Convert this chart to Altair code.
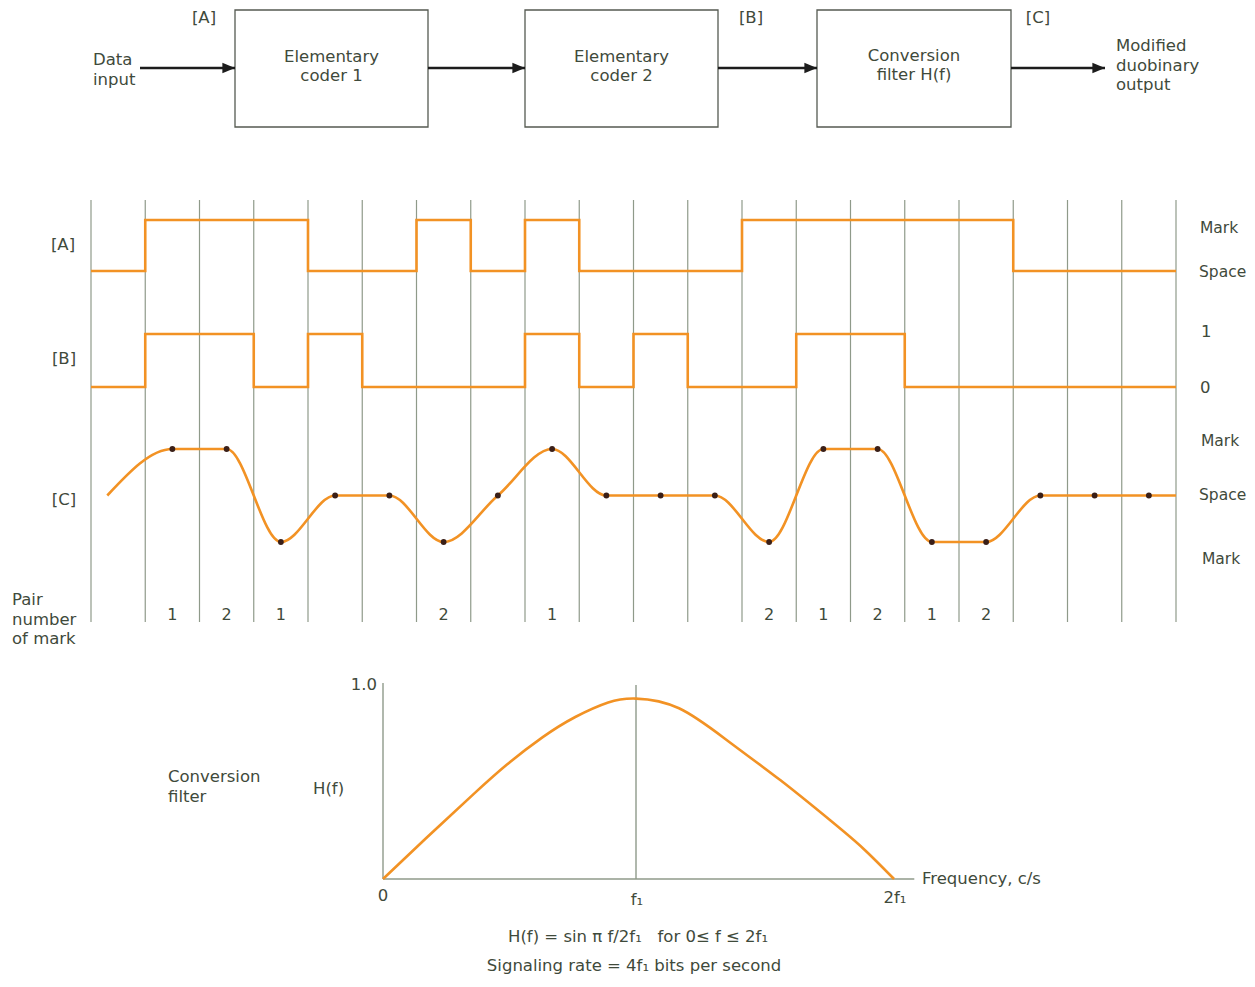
import altair as alt
import pandas as pd

# ------------------------------------------------------------------ data
# bit-interval index (20 signalling intervals)
bit_index = list(range(20))
# [A] data input: 1 = Mark, 0 = Space
signal_A = [0, 1, 1, 1, 0, 0, 1, 0, 1, 0, 0, 0, 1, 1, 1, 1, 1, 0, 0, 0]
# [B] output of elementary coder 2: 1 / 0
signal_B = [0, 1, 1, 0, 1, 0, 0, 0, 1, 0, 1, 0, 0, 1, 1, 0, 0, 0, 0, 0]
# [C] modified duobinary samples at bit centres (+1 Mark, 0 Space, -1 Mark)
sample_C = [None, 1, 1, -1, 0, 0, -1, 0, 1, 0, 0, 0, -1, 1, 1, -1, -1, 0, 0, 0]
curve_C_start_t = 0.3
curve_C_start_v = 0.0
curve_C_end_t = 20.0
curve_C_end_v = 0.0
# pair number of mark, per interval
pair_number = ["", "1", "2", "1", "", "", "2", "", "1", "", "", "", "2", "1", "2", "1", "2", "", "", ""]

# conversion filter response (f in units of f1)
filter_f = [0, 0.17, 0.36, 0.49, 0.63, 0.76, 0.89, 1.0, 1.17, 1.37, 1.57, 1.77, 1.9, 2.02]
filter_H = [0, 0.21, 0.44, 0.59, 0.73, 0.835, 0.91, 0.93, 0.88, 0.705, 0.51, 0.30, 0.155, 0.0]

# block diagram labels
block_labels = ["Elementary\ncoder 1", "Elementary\ncoder 2", "Conversion\nfilter H(f)"]
point_labels = ["[A]", "[B]", "[C]"]

# ------------------------------------------------------------------ layout
W, H = 1239, 971
SX0, SX1, SY0, SY1 = 8, 8 + W, 8, 8 + H
FONT = "DejaVu Sans"
TXT = "#3f4a3b"
ORANGE = "#f29224"
GRID = "#8f9a8a"
DOT = "#3a1f18"
NB = "\u00a0"


def xscale(d0, p0, d1, p1):
    k = (d1 - d0) / (p1 - p0)
    return alt.Scale(domain=[d0 + (SX0 - p0) * k, d0 + (SX1 - p0) * k], nice=False, zero=False)


def yscale(d0, p0, d1, p1):
    k = (d1 - d0) / (p1 - p0)
    return alt.Scale(domain=[d0 + (SY1 - p0) * k, d0 + (SY0 - p0) * k], nice=False, zero=False)


XC = alt.Scale(domain=[SX0, SX1], nice=False, zero=False)   # canvas (annotation) scale
YC = alt.Scale(domain=[SY1, SY0], nice=False, zero=False)

XW = xscale(0, 91, 20, 1176)          # bit time
YA = yscale(0, 271, 1, 220)
YB = yscale(0, 387, 1, 334)
YCC = yscale(-1, 542, 1, 449)
XF = xscale(0, 383, 1, 636)           # filter frequency
YF = yscale(0, 879, 1, 685)

layers = []

# ---------------------------------------------------------- block diagram
box_left = [235, 525, 817]
box_right = [428, 718, 1011]
box_top, box_bottom = 10, 127
boxes = pd.DataFrame({"x": box_left, "x2": box_right, "y": [box_top] * 3, "y2": [box_bottom] * 3,
                      "label": block_labels,
                      "cx": [(a + b) / 2 for a, b in zip(box_left, box_right)],
                      "cy": [57, 57, 56]})
layers.append(alt.Chart(boxes).mark_rect(fill=None, stroke="#555a52", strokeWidth=1.3).encode(
    x=alt.X("x:Q", scale=XC, axis=None), x2="x2:Q",
    y=alt.Y("y:Q", scale=YC, axis=None), y2="y2:Q"))
layers.append(alt.Chart(boxes).mark_text(font=FONT, fontSize=16.5, color=TXT, lineBreak="\n",
                                         lineHeight=19, baseline="middle", align="center").encode(
    x=alt.X("cx:Q", scale=XC, axis=None), y=alt.Y("cy:Q", scale=YC, axis=None), text="label:N"))

arrow_y = 68
arrows = pd.DataFrame({"x": [140, 428, 718, 1011], "x2": [235, 525, 817, 1105], "y": [arrow_y] * 4})
layers.append(alt.Chart(arrows).mark_rule(color="#1c1c1c", strokeWidth=2.6).encode(
    x=alt.X("x:Q", scale=XC, axis=None), x2="x2:Q", y=alt.Y("y:Q", scale=YC, axis=None)))
layers.append(alt.Chart(arrows).mark_point(shape="M-1,-0.42L0,0L-1,0.42Z", filled=True, size=640,
                                           color="#1c1c1c", opacity=1).encode(
    x=alt.X("x2:Q", scale=XC, axis=None), y=alt.Y("y:Q", scale=YC, axis=None)))

# ---------------------------------------------------------- annotations (canvas px)
ann_center = pd.DataFrame([
    {"t": point_labels[0], "x": 204, "y": 18},
    {"t": point_labels[1], "x": 751, "y": 18},
    {"t": point_labels[2], "x": 1038, "y": 18},
    {"t": "[A]", "x": 63, "y": 245},
    {"t": "[B]", "x": 64, "y": 359},
    {"t": "[C]", "x": 64, "y": 500},
    {"t": "0", "x": 383, "y": 896},
    {"t": "f\u2081", "x": 637, "y": 900},
    {"t": "2f\u2081", "x": 895, "y": 898},
])
ann_left = pd.DataFrame([
    {"t": "Data\ninput", "x": 93, "y": 60},
    {"t": "Modified\nduobinary\noutput", "x": 1116, "y": 46},
    {"t": "1", "x": 1201, "y": 332},
    {"t": "0", "x": 1200, "y": 388},
    {"t": "Pair\nnumber\nof mark", "x": 12, "y": 600},
    {"t": "Conversion\nfilter", "x": 168, "y": 777},
    {"t": "H(f)", "x": 313, "y": 789},
    {"t": "Frequency, c/s", "x": 922, "y": 879},
])
ann_right_side = pd.DataFrame([
    {"t": "Mark", "x": 1200, "y": 228},
    {"t": "Space", "x": 1199, "y": 272},
    {"t": "Mark", "x": 1201, "y": 441},
    {"t": "Space", "x": 1199, "y": 495},
    {"t": "Mark", "x": 1202, "y": 559},
])
ann_right = pd.DataFrame([{"t": "1.0", "x": 377, "y": 685}])
ann_formula = pd.DataFrame([
    {"t": "H(f) = sin \u03c0 f/2f\u2081" + NB * 3 + "for 0\u2264 f \u2264 2f\u2081", "x": 638, "y": 937},
    {"t": "Signaling rate = 4f\u2081 bits per second", "x": 634, "y": 966},
])
for df, al, fs in [(ann_center, "center", 16.5), (ann_left, "left", 16.5), (ann_right, "right", 16.5),
                   (ann_right_side, "left", 15.5), (ann_formula, "center", 16.5)]:
    layers.append(alt.Chart(df).mark_text(font=FONT, fontSize=fs, color=TXT, lineBreak="\n",
                                          lineHeight=19.5, baseline="middle", align=al).encode(
        x=alt.X("x:Q", scale=XC, axis=None), y=alt.Y("y:Q", scale=YC, axis=None), text="t:N"))

# ---------------------------------------------------------- waveforms
grid = pd.DataFrame({"t": list(range(21))})
layers.append(alt.Chart(grid).mark_rule(color=GRID, strokeWidth=1.2).encode(
    x=alt.X("t:Q", scale=XW, axis=None), y=alt.value(200 - SY0), y2=alt.value(622 - SY0)))

stepA = pd.DataFrame({"t": bit_index + [20], "v": signal_A + [signal_A[-1]]})
stepB = pd.DataFrame({"t": bit_index + [20], "v": signal_B + [signal_B[-1]]})
layers.append(alt.Chart(stepA).mark_line(interpolate="step-after", color=ORANGE, strokeWidth=2.6).encode(
    x=alt.X("t:Q", scale=XW, axis=None), y=alt.Y("v:Q", scale=YA, axis=None), order="t:Q"))
layers.append(alt.Chart(stepB).mark_line(interpolate="step-after", color=ORANGE, strokeWidth=2.6).encode(
    x=alt.X("t:Q", scale=XW, axis=None), y=alt.Y("v:Q", scale=YB, axis=None), order="t:Q"))

c_t = [i + 0.5 for i in bit_index if sample_C[i] is not None]
c_v = [v for v in sample_C if v is not None]
curveC = pd.DataFrame({"t": [curve_C_start_t] + c_t + [curve_C_end_t],
                       "v": [curve_C_start_v] + c_v + [curve_C_end_v]})
dotsC = pd.DataFrame({"t": c_t, "v": c_v})
layers.append(alt.Chart(curveC).mark_line(interpolate="monotone", color=ORANGE, strokeWidth=2.6).encode(
    x=alt.X("t:Q", scale=XW, axis=None), y=alt.Y("v:Q", scale=YCC, axis=None), order="t:Q"))
layers.append(alt.Chart(dotsC).mark_circle(size=34, color=DOT, opacity=1).encode(
    x=alt.X("t:Q", scale=XW, axis=None), y=alt.Y("v:Q", scale=YCC, axis=None)))

pairs = pd.DataFrame({"t": [i + 0.5 for i in bit_index], "p": pair_number})
pairs = pairs[pairs["p"] != ""]
layers.append(alt.Chart(pairs).mark_text(font=FONT, fontSize=16, color=TXT, baseline="middle").encode(
    x=alt.X("t:Q", scale=XW, axis=None), y=alt.value(615 - SY0), text="p:N"))

# ---------------------------------------------------------- filter plot
frame = pd.DataFrame({"x": [0, 0, 1], "x2": [0, 2.1, 1], "y": [0, 0, 0], "y2": [1.01, 0, 1.0]})
layers.append(alt.Chart(frame).mark_rule(color=GRID, strokeWidth=1.4).encode(
    x=alt.X("x:Q", scale=XF, axis=None), x2="x2:Q",
    y=alt.Y("y:Q", scale=YF, axis=None), y2="y2:Q"))
filt = pd.DataFrame({"f": filter_f, "h": filter_H})
layers.append(alt.Chart(filt).mark_line(interpolate="natural", color=ORANGE, strokeWidth=2.6).encode(
    x=alt.X("f:Q", scale=XF, axis=None), y=alt.Y("h:Q", scale=YF, axis=None), order="f:Q"))

chart = alt.layer(*layers).resolve_scale(x="independent", y="independent").properties(
    width=W, height=H, padding=0, autosize=alt.AutoSizeParams(type="none")
).configure_view(stroke=None)

chart.save("out.html", embed_options={"renderer": "svg", "actions": False})
